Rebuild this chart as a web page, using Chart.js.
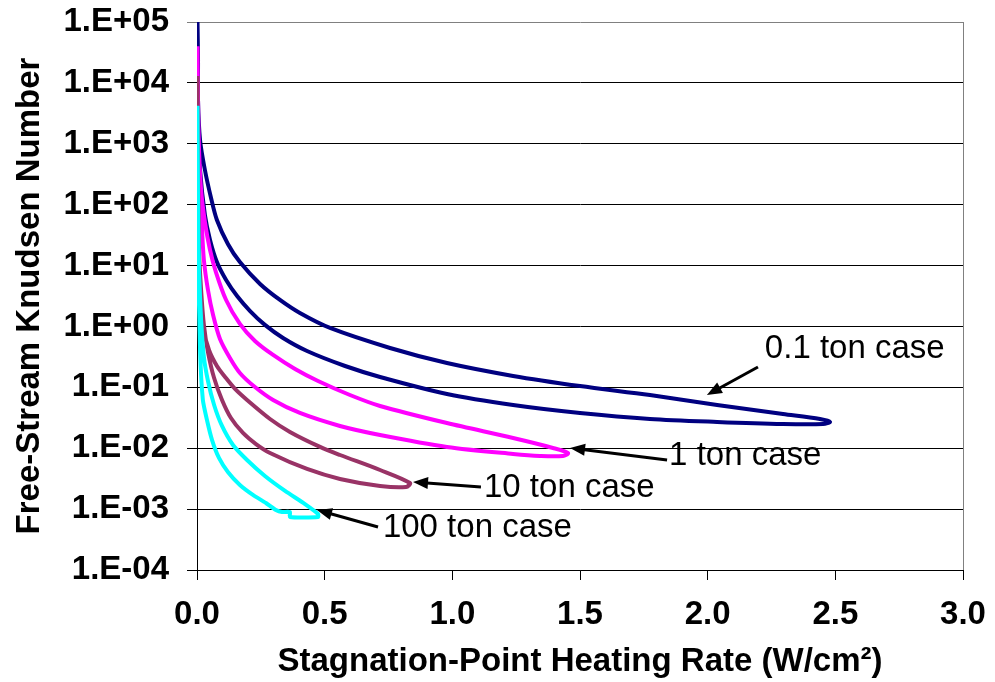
<!DOCTYPE html>
<html>
<head>
<meta charset="utf-8">
<script src="https://cdn.jsdelivr.net/npm/chart.js@4/dist/chart.umd.min.js"></script>
<style>
  body { margin: 0; background: #fff; }
  #wrap { width: 995px; height: 682px; }
</style>
</head>
<body>
<div id="wrap"><canvas id="kn-chart" width="995" height="682"></canvas></div>
<script>
// axis ticks
const xTicks = [0, 0.5, 1.0, 1.5, 2.0, 2.5, 3.0];
const yTicks = [1e-4, 1e-3, 1e-2, 1e-1, 1e0, 1e1, 1e2, 1e3, 1e4, 1e5];
const yTickLabels = ['1.E-04', '1.E-03', '1.E-02', '1.E-01', '1.E+00', '1.E+01', '1.E+02', '1.E+03', '1.E+04', '1.E+05'];

// heating rate (W/cm2) and Knudsen number along each loop
const q01 = [0.002, 0.004, 0.004, 0.012, 0.031, 0.055, 0.078, 0.121, 0.168, 0.247, 0.325, 0.403, 0.521, 0.756, 0.979, 1.238, 1.500, 1.774, 2.037, 2.295, 2.440, 2.479,
             2.452, 2.295, 2.037, 1.774, 1.500, 1.238, 0.979, 0.717, 0.580, 0.431, 0.337, 0.266, 0.208, 0.157, 0.114, 0.078, 0.051, 0.031, 0.012, 0.004, 0.002];
const kn01 = [1e5, 2.4e4, 5.2e3, 1.15e3, 371, 129, 56, 22.6, 11.4, 4.98, 2.72, 1.66, 0.944, 0.443, 0.251, 0.154, 0.105, 0.0748, 0.0513, 0.0365, 0.0302, 0.027,
              0.025, 0.025, 0.027, 0.0302, 0.0379, 0.0513, 0.0778, 0.148, 0.224, 0.395, 0.646, 1.06, 1.79, 3.16, 5.79, 11.4, 26.3, 67.6, 371, 2460, 2.4e4];

const q1 = [0.002, 0.004, 0.008, 0.016, 0.031, 0.051, 0.074, 0.114, 0.168, 0.227, 0.298, 0.384, 0.474, 0.599, 0.717, 0.979, 1.238, 1.394, 1.453,
            1.433, 1.343, 1.238, 0.979, 0.717, 0.560, 0.403, 0.298, 0.227, 0.168, 0.129, 0.090, 0.063, 0.043, 0.027, 0.020, 0.008, 0.004];
const kn1 = [4.0e4, 5.2e3, 791, 174, 51.9, 18, 7.83, 2.72, 1.10, 0.577, 0.34, 0.200, 0.127, 0.0748, 0.0494, 0.0259, 0.0147, 0.0101, 0.00835,
             0.00745, 0.00745, 0.00804, 0.0105, 0.0165, 0.0232, 0.0379, 0.0619, 0.101, 0.172, 0.303, 0.622, 1.54, 3.97, 12.3, 38.4, 542, 5.2e3];

const q10 = [0.002, 0.004, 0.008, 0.016, 0.027, 0.047, 0.078, 0.110, 0.149, 0.196, 0.286, 0.364, 0.482, 0.560, 0.717, 0.834,
             0.819, 0.717, 0.560, 0.431, 0.286, 0.231, 0.180, 0.133, 0.098, 0.067, 0.043, 0.027, 0.016, 0.008, 0.004];
const kn10 = [1.3e4, 791, 18, 2.72, 0.875, 0.41, 0.224, 0.148, 0.094, 0.0619, 0.0302, 0.0185, 0.0105, 0.00774, 0.00439, 0.00268,
              0.00231, 0.0024, 0.00313, 0.00456, 0.00835, 0.0117, 0.0178, 0.0313, 0.0619, 0.142, 0.38, 1.06, 3.97, 18, 791];

const q100 = [0.002, 0.004, 0.008, 0.016, 0.027, 0.043, 0.067, 0.098, 0.141, 0.196, 0.266, 0.345, 0.423, 0.474,
              0.474, 0.364, 0.364, 0.333, 0.309, 0.270, 0.219, 0.168, 0.121, 0.086, 0.059, 0.039, 0.023, 0.012, 0.004, 0.002];
const kn100 = [4.2e3, 119, 8.45, 1.28, 0.315, 0.127, 0.0513, 0.0232, 0.0113, 0.00641, 0.0035, 0.00199, 0.00121, 0.000832,
               0.000743, 0.000743, 0.000897, 0.000897, 0.000968, 0.00126, 0.00171, 0.00249, 0.00407, 0.00692, 0.0136, 0.0291, 0.0619, 0.41, 18, 791];

// callouts: label anchor and arrow tail/head, in data units
const caseNames = ['0.1 ton case', '1 ton case', '10 ton case', '100 ton case'];
const labelQ = [2.224, 1.849, 1.124, 0.728];
const labelKn = [0.426, 0.00745, 0.00222, 0.00049];
const arrowFromQ = [2.197, 1.841, 1.112, 0.709];
const arrowFromKn = [0.216, 0.00641, 0.00231, 0.000508];
const arrowToQ = [1.997, 1.461, 0.846, 0.470];
const arrowToKn = [0.0748, 0.0101, 0.00279, 0.000968];

const FONT = '"Liberation Sans", Arial, sans-serif';
Chart.defaults.font.family = FONT;
Chart.defaults.color = '#000';

const toPoints = (qs, kns) => qs.map((q, i) => ({ x: q, y: kns[i] }));

const callouts = {
    id: 'callouts',
    afterDatasetsDraw(chart) {
        const { ctx, chartArea, scales: { x, y } } = chart;
        ctx.save();
        // plot area border on the right
        const rx = Math.round(chartArea.right) + 0.5;
        ctx.strokeStyle = '#808080';
        ctx.lineWidth = 1;
        ctx.beginPath();
        ctx.moveTo(rx, chartArea.top);
        ctx.lineTo(rx, chartArea.bottom);
        ctx.stroke();

        ctx.strokeStyle = '#000';
        ctx.fillStyle = '#000';
        ctx.font = '33px ' + FONT;
        ctx.textBaseline = 'middle';
        ctx.textAlign = 'left';
        caseNames.forEach((name, i) => {
            const x0 = x.getPixelForValue(arrowFromQ[i]);
            const y0 = y.getPixelForValue(arrowFromKn[i]);
            const x1 = x.getPixelForValue(arrowToQ[i]);
            const y1 = y.getPixelForValue(arrowToKn[i]);
            const ang = Math.atan2(y1 - y0, x1 - x0);
            const hl = 15, hw = 6;
            const c = Math.cos(ang), s = Math.sin(ang);
            ctx.lineWidth = 3;
            ctx.beginPath();
            ctx.moveTo(x0, y0);
            ctx.lineTo(x1 - hl * 0.7 * c, y1 - hl * 0.7 * s);
            ctx.stroke();
            ctx.beginPath();
            ctx.moveTo(x1, y1);
            ctx.lineTo(x1 - hl * c + hw * s, y1 - hl * s - hw * c);
            ctx.lineTo(x1 - hl * c - hw * s, y1 - hl * s + hw * c);
            ctx.closePath();
            ctx.fill();
            ctx.fillText(name, x.getPixelForValue(labelQ[i]), y.getPixelForValue(labelKn[i]));
        });
        ctx.restore();
    }
};

const ctx = document.getElementById('kn-chart').getContext('2d');
const knChart = new Chart(ctx, {
    type: 'scatter',
    data: {
        datasets: [
            { label: '0.1 ton', data: toPoints(q01, kn01), borderColor: '#000080', order: 4, tension: 0.3 },
            { label: '1 ton', data: toPoints(q1, kn1), borderColor: '#FF00FF', order: 3, tension: 0.3 },
            { label: '10 ton', data: toPoints(q10, kn10), borderColor: '#993366', order: 2, tension: 0.3 },
            { label: '100 ton', data: toPoints(q100, kn100), borderColor: '#00FFFF', order: 1, tension: 0.2 }
        ]
    },
    options: {
        responsive: false,
        animation: false,
        showLine: true,
        elements: {
            point: { radius: 0, hoverRadius: 0 },
            line: { borderWidth: 4, fill: false }
        },
        layout: { padding: { top: 22, right: 32, left: 0, bottom: 0 } },
        plugins: {
            legend: { display: false },
            tooltip: { enabled: false }
        },
        scales: {
            x: {
                type: 'linear',
                min: 0,
                max: 3,
                afterBuildTicks: (s) => { s.ticks = xTicks.map((v) => ({ value: v })); },
                afterFit: (s) => { s.height = 112; s.paddingLeft = 0; s.paddingRight = 0; },
                ticks: {
                    callback: (v) => Number(v).toFixed(1),
                    font: { size: 33, weight: 'bold' },
                    color: '#000',
                    padding: 15,
                    maxRotation: 0,
                    autoSkip: false
                },
                grid: { drawOnChartArea: false, color: '#000', tickLength: 10, tickWidth: 1 },
                border: { color: '#000', width: 1 },
                title: {
                    display: true,
                    text: 'Stagnation-Point Heating Rate (W/cm²)',
                    font: { size: 33, weight: 'bold' },
                    color: '#000',
                    padding: { top: 0, bottom: 0 }
                }
            },
            y: {
                type: 'logarithmic',
                min: 1e-4,
                max: 1e5,
                afterBuildTicks: (s) => { s.ticks = yTicks.map((v) => ({ value: v })); },
                afterFit: (s) => { s.width = 197; s.paddingTop = 0; s.paddingBottom = 0; },
                ticks: {
                    callback: (v, i) => yTickLabels[i],
                    font: { size: 33, weight: 'bold' },
                    color: '#000',
                    padding: 18,
                    autoSkip: false
                },
                grid: {
                    color: (c) => (c.tick && c.tick.value === 1e5 ? '#808080' : '#000'),
                    lineWidth: 1,
                    tickLength: 10
                },
                border: { color: '#000', width: 1 },
                title: {
                    display: true,
                    text: 'Free-Stream Knudsen Number',
                    font: { size: 33, weight: 'bold' },
                    color: '#000',
                    padding: { top: 10, bottom: 0 }
                }
            }
        }
    },
    plugins: [callouts]
});
</script>
</body>
</html>
